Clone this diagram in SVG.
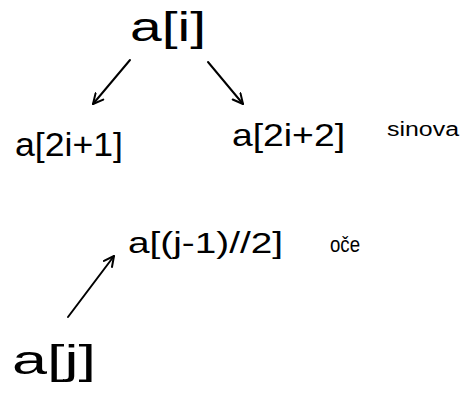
<svg xmlns="http://www.w3.org/2000/svg" width="475" height="393" viewBox="0 0 475 393">
<defs>
<style>
.t{font-family:"Liberation Sans","DejaVu Sans",sans-serif;fill:#000}
.c{stroke:#000;stroke-width:2;fill:none;stroke-linecap:round}
</style>
<marker id="ah" viewBox="0 0 12 12" refX="11" refY="6" markerWidth="12" markerHeight="12" markerUnits="userSpaceOnUse" orient="auto">
<path d="M1,1 L11,6 L1,11" fill="none" stroke="#000" stroke-width="2" stroke-linecap="round" stroke-linejoin="round"/>
</marker>
</defs>
<rect width="475" height="393" fill="#fff"/>
<g id="root"><text class="t" x="130" y="41" font-size="40" textLength="76" lengthAdjust="spacingAndGlyphs">a[i]</text></g>
<g id="left"><text class="t" x="15" y="156" font-size="34" textLength="108" lengthAdjust="spacingAndGlyphs">a[2i+1]</text></g>
<g id="right"><text class="t" x="232" y="146" font-size="32" textLength="113" lengthAdjust="spacingAndGlyphs">a[2i+2]</text></g>
<g id="sons"><text class="t" x="387" y="136" font-size="20" textLength="72" lengthAdjust="spacingAndGlyphs">sinova</text></g>
<g id="parent"><text class="t" x="128" y="253" font-size="30" textLength="155" lengthAdjust="spacingAndGlyphs">a[(j-1)//2]</text></g>
<g id="father"><text class="t" x="330" y="252" font-size="22" textLength="30" lengthAdjust="spacingAndGlyphs">oče</text></g>
<g id="child"><text class="t" x="12" y="374" font-size="40" textLength="84" lengthAdjust="spacingAndGlyphs">a[j]</text></g>
<g id="connectors">
<line class="c" x1="130" y1="60" x2="93" y2="104" marker-end="url(#ah)"/>
<line class="c" x1="208" y1="62" x2="243" y2="104" marker-end="url(#ah)"/>
<line class="c" x1="68" y1="317" x2="114" y2="256" marker-end="url(#ah)"/>
</g>
</svg>
